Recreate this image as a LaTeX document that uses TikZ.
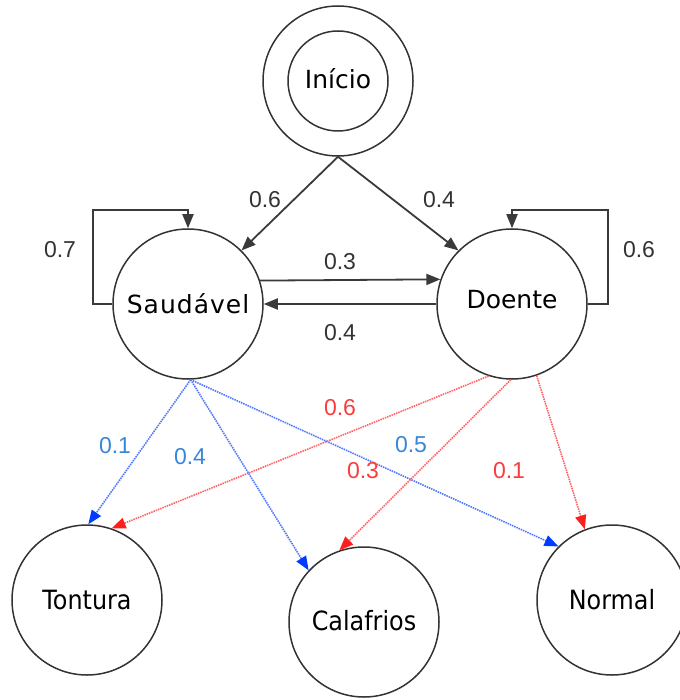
\documentclass[tikz,border=0pt]{standalone}
\usepackage{fontspec}
\setmainfont{DejaVu Sans}
\newfontfamily\labelfont{Liberation Sans}
\newfontfamily\condfont[FakeStretch=0.9]{DejaVu Sans}
\usetikzlibrary{arrows.meta}
\definecolor{ink}{HTML}{333333}
\definecolor{edgeink}{HTML}{3A3A3A}
\definecolor{bluedot}{RGB}{80,120,255}
\definecolor{bluetip}{RGB}{0,60,255}
\definecolor{bluetxt}{RGB}{55,135,215}
\definecolor{reddot}{RGB}{255,100,100}
\definecolor{redtip}{RGB}{255,30,30}
\definecolor{redtxt}{RGB}{250,60,60}
\begin{document}
\begin{tikzpicture}[x=1pt,y=-1pt,
  state/.style={circle,draw=ink,line width=1.5pt,minimum size=150pt,inner sep=0pt,
    font=\fontsize{25}{28}\selectfont},
  obs/.style={state,font=\condfont\fontsize{26.5}{30}\selectfont},
  trans/.style={draw=edgeink,line width=1.8pt,-{Triangle[length=14pt,width=11pt]}},
  emitS/.style={draw=bluedot,line width=1.6pt,dash pattern=on 1.5pt off 0.9pt,
    -{Triangle[length=14pt,width=11pt,color=bluetip]}},
  emitD/.style={draw=reddot,line width=1.6pt,dash pattern=on 1.5pt off 0.9pt,
    -{Triangle[length=14pt,width=11pt,color=redtip]}},
  prob/.style={font=\labelfont\fontsize{23}{26}\selectfont,text=ink,inner sep=0pt},
  probS/.style={prob,text=bluetxt},
  probD/.style={prob,text=redtxt},
]
\useasboundingbox (0,0) rectangle (679,700);

% hidden states
\node[state,path picture={\draw[ink,line width=1.5pt]
  (path picture bounding box.center) circle (50pt);}] (ini) at (338,81) {\raisebox{5pt}{Início}};
\node[state] (sau) at (188,304) {\addfontfeature{LetterSpace=4}Saudável};
\node[state] (doe) at (512,304) {\raisebox{9pt}{Doente}};

% observations
\node[obs] (ton) at (87,600) {Tontura};
\node[obs] (cal) at (364,622) {\raisebox{4pt}{Calafrios}};
\node[obs] (nor) at (612,600) {Normal};

% loop corners
\coordinate (sl) at (93,210);
\coordinate (dl) at (608,210);

% transitions
\draw[trans] (ini.-90) -- (sau.45);
\draw[trans] (ini.-90) -- (doe.135);
\draw[trans] (sau.18.7) -- (doe.161.3);
\draw[trans] (doe.west) -- (sau.east);
\draw[trans] (sau.west) -| (sl) -| (sau.north);
\draw[trans] (doe.east) -| (dl) -| (doe.north);

% emissions from Saudável
\draw[emitS] (sau.-88) -- (ton.89);
\draw[emitS] (sau.-88) -- (cal.137);
\draw[emitS] (sau.-88) -- (nor.135);

% emissions from Doente
\draw[emitD] (doe.-108) -- (ton.71);
\draw[emitD] (doe.-91) -- (cal.109);
\draw[emitD] (doe.-71) -- (nor.111);

% probabilities
\node[prob] (p1) at (265,200) {0.6};
\node[prob] (p2) at (439,200) {0.4};
\node[prob] (p3) at (60,250) {0.7};
\node[prob] (p4) at (639,250) {0.6};
\node[prob] (p5) at (340,262) {0.3};
\node[prob] (p6) at (340,333) {0.4};
\node[probS] (e1) at (115,446) {0.1};
\node[probS] (e2) at (190,457) {0.4};
\node[probS] (e3) at (411,445) {0.5};
\node[probD] (e4) at (340,408) {0.6};
\node[probD] (e5) at (363,471) {0.3};
\node[probD] (e6) at (509,471) {0.1};
\end{tikzpicture}
\end{document}
